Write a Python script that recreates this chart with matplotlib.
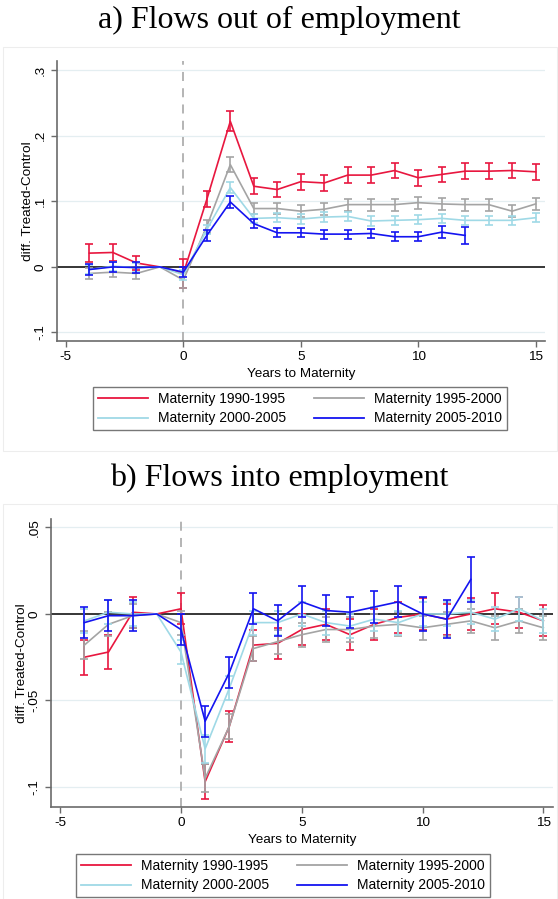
import numpy as np
import matplotlib
matplotlib.use("Agg")
import matplotlib.pyplot as plt
from matplotlib.lines import Line2D
from matplotlib.patches import Rectangle

plt.rcParams['font.family'] = ['Liberation Sans', 'DejaVu Sans']
plt.rcParams['axes.unicode_minus'] = False

labels = ["Maternity 1990-1995", "Maternity 1995-2000",
          "Maternity 2000-2005", "Maternity 2005-2010"]
colors = ["#E8173F", "#A4A4A4", "#9FD9E6", "#1414F0"]

years = list(range(-4, 16))
years_short = list(range(-4, 13))

# a) flows out of employment: point estimates
out_9095 = [0.021, 0.022, 0.006, 0, -0.010, 0.103, 0.222, 0.123, 0.118, 0.130,
            0.128, 0.140, 0.140, 0.147, 0.136, 0.141, 0.146, 0.146, 0.147, 0.145]
out_9500 = [-0.010, -0.008, -0.010, 0, -0.020, 0.062, 0.156, 0.089, 0.089, 0.085,
            0.088, 0.095, 0.095, 0.095, 0.098, 0.096, 0.095, 0.095, 0.085, 0.096]
out_0005 = [-0.004, 0.001, -0.001, 0, -0.012, 0.057, 0.121, 0.074, 0.075, 0.073,
            0.076, 0.077, 0.070, 0.071, 0.072, 0.074, 0.071, 0.071, 0.071, 0.075]
out_0510 = [-0.004, 0.000, -0.001, 0, -0.008, 0.048, 0.099, 0.066, 0.052, 0.052,
            0.050, 0.050, 0.051, 0.046, 0.046, 0.053, 0.048]

# half width of the confidence intervals
out_ci_9095 = [0.014, 0.013, 0.011, 0, 0.022, 0.012, 0.015, 0.012, 0.012, 0.012,
               0.012, 0.012, 0.012, 0.012, 0.012, 0.012, 0.012, 0.012, 0.012, 0.012]
out_ci_9500 = [0.009, 0.008, 0.009, 0, 0.012, 0.010, 0.011, 0.009, 0.009, 0.009,
               0.009, 0.009, 0.009, 0.009, 0.009, 0.009, 0.009, 0.009, 0.009, 0.009]
out_ci_0005 = [0.007, 0.007, 0.007, 0, 0.008, 0.007, 0.009, 0.007, 0.007, 0.007,
               0.007, 0.007, 0.007, 0.007, 0.007, 0.007, 0.007, 0.007, 0.007, 0.007]
out_ci_0510 = [0.008, 0.008, 0.008, 0, 0.008, 0.008, 0.009, 0.007, 0.007, 0.007,
               0.007, 0.007, 0.007, 0.007, 0.007, 0.009, 0.013]

# b) flows into employment: point estimates
in_9095 = [-0.025, -0.022, 0.001, 0, 0.003, -0.097, -0.065, -0.018, -0.017, -0.009,
           -0.006, -0.012, -0.006, -0.002, 0.000, -0.003, 0.000, 0.003, 0.001, -0.004]
in_9500 = [-0.018, -0.006, -0.001, 0, -0.005, -0.095, -0.065, -0.020, -0.016, -0.012,
           -0.009, -0.009, -0.007, -0.006, -0.008, -0.006, -0.004, -0.008, -0.004, -0.008]
in_0005 = [-0.004, 0.001, 0.000, 0, -0.022, -0.078, -0.043, -0.005, -0.005, 0.000,
           -0.005, -0.007, -0.003, -0.005, 0.000, 0.000, 0.001, -0.003, 0.003, -0.004]
in_0510 = [-0.005, -0.001, -0.001, 0, -0.009, -0.062, -0.034, 0.003, -0.004, 0.007,
           0.002, 0.001, 0.004, 0.007, 0.000, -0.003, 0.020]

in_ci_9095 = [0.010, 0.010, 0.009, 0, 0.009, 0.010, 0.009, 0.009, 0.009, 0.009,
              0.009, 0.009, 0.009, 0.009, 0.009, 0.009, 0.009, 0.009, 0.009, 0.009]
in_ci_9500 = [0.008, 0.007, 0.007, 0, 0.007, 0.008, 0.007, 0.007, 0.007, 0.007,
              0.007, 0.007, 0.007, 0.007, 0.007, 0.007, 0.007, 0.007, 0.007, 0.007]
in_ci_0005 = [0.007, 0.007, 0.007, 0, 0.007, 0.008, 0.007, 0.007, 0.007, 0.007,
              0.007, 0.007, 0.007, 0.007, 0.007, 0.007, 0.007, 0.007, 0.007, 0.007]
in_ci_0510 = [0.009, 0.009, 0.009, 0, 0.009, 0.009, 0.009, 0.009, 0.009, 0.009,
              0.009, 0.009, 0.009, 0.009, 0.010, 0.011, 0.013]

W, H = 558, 899
fig = plt.figure(figsize=(W / 100, H / 100), dpi=100)


def px_rect(x0, y0, x1, y1):
    # pixel box (top-left origin) -> figure fraction [left, bottom, width, height]
    return [x0 / W, 1 - y1 / H, (x1 - x0) / W, (y1 - y0) / H]


#light frame around each graph region
for (x0, y0, x1, y1) in [(3, 47, 557, 451), (3, 504, 557, 905)]:
    fig.patches.append(Rectangle((x0 / W, 1 - y1 / H), (x1 - x0) / W, (y1 - y0) / H,
                                 transform=fig.transFigure, fill=False,
                                 edgecolor="#EDEDED", lw=0.8))


def draw_panel(ax, series, cis, xs, yticks, yticklabels, ylim):
    for yt in yticks:
        if yt != 0:
            ax.axhline(yt, color="#E4EEF1", lw=0.9, zorder=0)
    ax.axhline(0, color="black", lw=1.1, zorder=1)
    ax.axvline(0, color="#AFAFAF", lw=1.3, ls=(0, (5, 4)), zorder=1)

    for i, (vals, ci) in enumerate(zip(series, cis)):
        x = np.array(xs[i])
        v = np.array(vals)
        c = np.array(ci)
        keep = x != -1  # reference year has no interval
        ax.errorbar(x[keep], v[keep], yerr=c[keep], fmt="none", ecolor=colors[i],
                    elinewidth=1.2, capsize=2.9, capthick=1.2, zorder=2 + i)
        ax.plot(x, v, color=colors[i], lw=1.2, zorder=2 + i)

    ax.set_xlim(-5.38, 15.4)
    ax.set_ylim(*ylim)
    ax.set_xticks([-5, 0, 5, 10, 15])
    ax.set_yticks(yticks)
    ax.set_yticklabels(yticklabels, rotation=90, va="center")
    for s in ["top", "right"]:
        ax.spines[s].set_visible(False)
    for s in ["left", "bottom"]:
        ax.spines[s].set_color("#6B6B6B")
        ax.spines[s].set_linewidth(1.2)
    ax.tick_params(colors="#6B6B6B", labelcolor="black", labelsize=9.7,
                   length=4, width=1.0)
    ax.set_xlabel("Years to Maternity", fontsize=9.7, labelpad=3)
    ax.set_ylabel("diff. Treated-Control", fontsize=9.7, labelpad=0.5)


def add_legend(center_x, top_y):
    # legend fills by column, so reorder to get Stata's row-wise layout
    order = [0, 2, 1, 3]
    handles = [Line2D([], [], color=colors[k], lw=1.3) for k in order]
    leg = fig.legend(handles, [labels[k] for k in order], ncol=2, loc="upper center",
                     bbox_to_anchor=(center_x / W, 1 - top_y / H), borderaxespad=0,
                     fontsize=10, frameon=True, fancybox=False,
                     edgecolor="#555555", handlelength=3.6, handletextpad=0.7,
                     columnspacing=2.0, labelspacing=0.4, borderpad=0.35)
    leg.get_frame().set_linewidth(1.0)


# top graph
fig.text(0.5, 1 - 20 / H, "a) Flows out of employment", ha="center", va="center",
         fontsize=23, family=["Liberation Serif", "DejaVu Serif"])
ax1 = fig.add_axes(px_rect(57, 61, 545, 341))
draw_panel(ax1, [out_9095, out_9500, out_0005, out_0510],
           [out_ci_9095, out_ci_9500, out_ci_0005, out_ci_0510],
           [years, years, years, years_short],
           [-0.1, 0, 0.1, 0.2, 0.3], ["-.1", "0", ".1", ".2", ".3"],
           (-0.113, 0.314))
add_legend(300, 387)

# bottom graph
fig.text(0.5, 1 - 478 / H, "b) Flows into employment", ha="center", va="center",
         fontsize=23, family=["Liberation Serif", "DejaVu Serif"])
ax2 = fig.add_axes(px_rect(51, 519, 553, 807))
draw_panel(ax2, [in_9095, in_9500, in_0005, in_0510],
           [in_ci_9095, in_ci_9500, in_ci_0005, in_ci_0510],
           [years, years, years, years_short],
           [-0.1, -0.05, 0, 0.05], ["-.1", "-.05", "0", ".05"],
           (-0.1116, 0.0549))
add_legend(283, 854)

fig.savefig("out.png", dpi=100)
